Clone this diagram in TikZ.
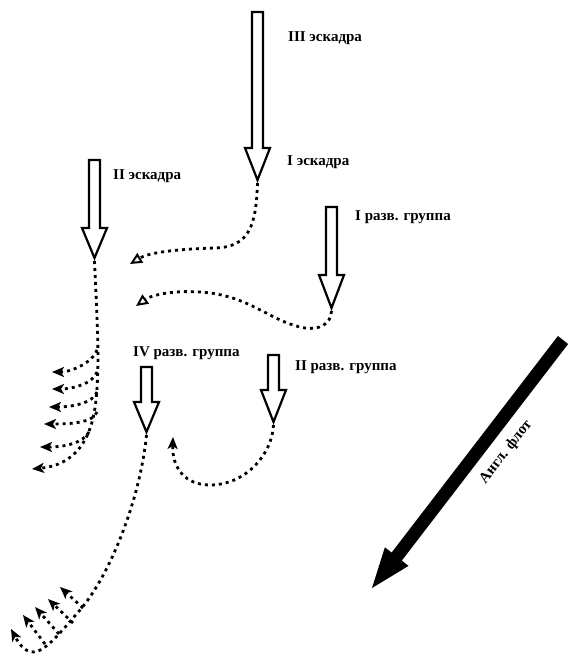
\documentclass[tikz,border=0pt]{standalone}
\usepackage{fontspec}
\setmainfont{Liberation Serif}
\usetikzlibrary{arrows.meta}

% hollow column arrow: name, x, top, head base, tip
\newcommand{\columnarrow}[5]{%
  \draw[column] (#2-5.5,#3) -- (#2+5.5,#3) -- (#2+5.5,#4) -- (#2+12.5,#4)
    -- (#2,#5) -- (#2-12.5,#4) -- (#2-5.5,#4) -- cycle;
  \coordinate (#1) at (#2,#5+3);}

\begin{document}
\begin{tikzpicture}[
    x=1pt, y=-1pt,
    column/.style={draw, line width=2.2pt, fill=white, line join=miter},
    track/.style={line width=2.8pt, dash pattern=on 3pt off 4pt},
    opentip/.style={-{Triangle[open, length=12pt, width=11pt, line width=2pt]}},
    solidtip/.style={-{Stealth[length=12pt, width=10pt, inset=3pt]}},
    unitname/.style={anchor=west, inner sep=0pt, font=\fontsize{15}{17}\selectfont\bfseries}
  ]
  \useasboundingbox (0,0) rectangle (577,671);

  % columns
  \columnarrow{esc3}{257.5}{12}{148}{180}
  \columnarrow{esc2}{94.5}{160}{228}{258}
  \columnarrow{rec1}{331.5}{207}{275}{308}
  \columnarrow{rec4}{146.5}{367}{402}{432}
  \columnarrow{rec2}{273.5}{355}{390}{422}

  % labels
  \node[unitname] (lbl3) at (288,38) {III эскадра};
  \node[unitname] (lbl1) at (287,162) {I эскадра};
  \node[unitname] (lbl2) at (113,176) {II эскадра};
  \node[unitname] (lblr1) at (355,217) {I разв. группа};
  \node[unitname] (lblr4) at (133,353) {IV разв. группа};
  \node[unitname] (lblr2) at (295,367) {II разв. группа};

  % end points
  \coordinate (esc3end) at (130,264);
  \coordinate (rec1end) at (136,306);
  \coordinate (rec2end) at (173,437);
  \coordinate (esc2end) at (32,469);
  \coordinate (rec4end) at (11,629);

  % I эскадра turns west
  \draw[track, opentip] (esc3) .. controls (256,225) and (250,247) .. (215,248)
    .. controls (180,249) and (150,252) .. (esc3end);
  % I разв. группа
  \draw[track, opentip] (rec1) .. controls (331,325) and (318,330) .. (305,328)
    .. controls (270,322) and (250,295) .. (200,292)
    .. controls (170,290) and (150,296) .. (rec1end);
  % II разв. группа
  \draw[track, solidtip] (rec2) .. controls (272,455) and (245,485) .. (210,485)
    .. controls (185,485) and (172,468) .. (rec2end);

  % II эскадра fans out
  \draw[track, solidtip] (esc2) .. controls (97,320) and (100,360) .. (96,400)
    .. controls (92,440) and (75,465) .. (esc2end);
  \foreach \sy/\ey/\ex in {350/372/52, 372/389/52, 392/407/49, 412/424/44}
    \draw[track, solidtip] (97,\sy) .. controls (93,\sy+12) and (\ex+20,\ey) .. (\ex,\ey);
  \draw[track, solidtip] (89,432) .. controls (83,443) and (65,447) .. (40,447);

  % IV разв. группа
  \draw[track, solidtip] (rec4) .. controls (140,500) and (110,575) .. (80,610)
    .. controls (60,633) and (45,652) .. (33,652)
    .. controls (24,652) and (18,642) .. (rec4end);
  \foreach \sx/\sy/\ex/\ey in {83/608/60/587, 73/623/48/599, 59/634/35/607, 45/644/23/615}
    \draw[track, solidtip] (\sx,\sy) -- (\ex,\ey);

  % British fleet
  \coordinate (fleettop) at (563,340);
  \coordinate (fleettip) at (372,588);
  \fill (568.1,344.0) -- (557.9,336.0) -- (391.6,552.6) -- (384.9,547.3)
    -- (fleettip) -- (408.5,565.9) -- (401.8,560.6) -- cycle;
  \node[rotate=52, inner sep=0pt, font=\fontsize{15}{17}\selectfont\bfseries] (fleetlbl) at (506,452) {Англ. флот};
\end{tikzpicture}
\end{document}
